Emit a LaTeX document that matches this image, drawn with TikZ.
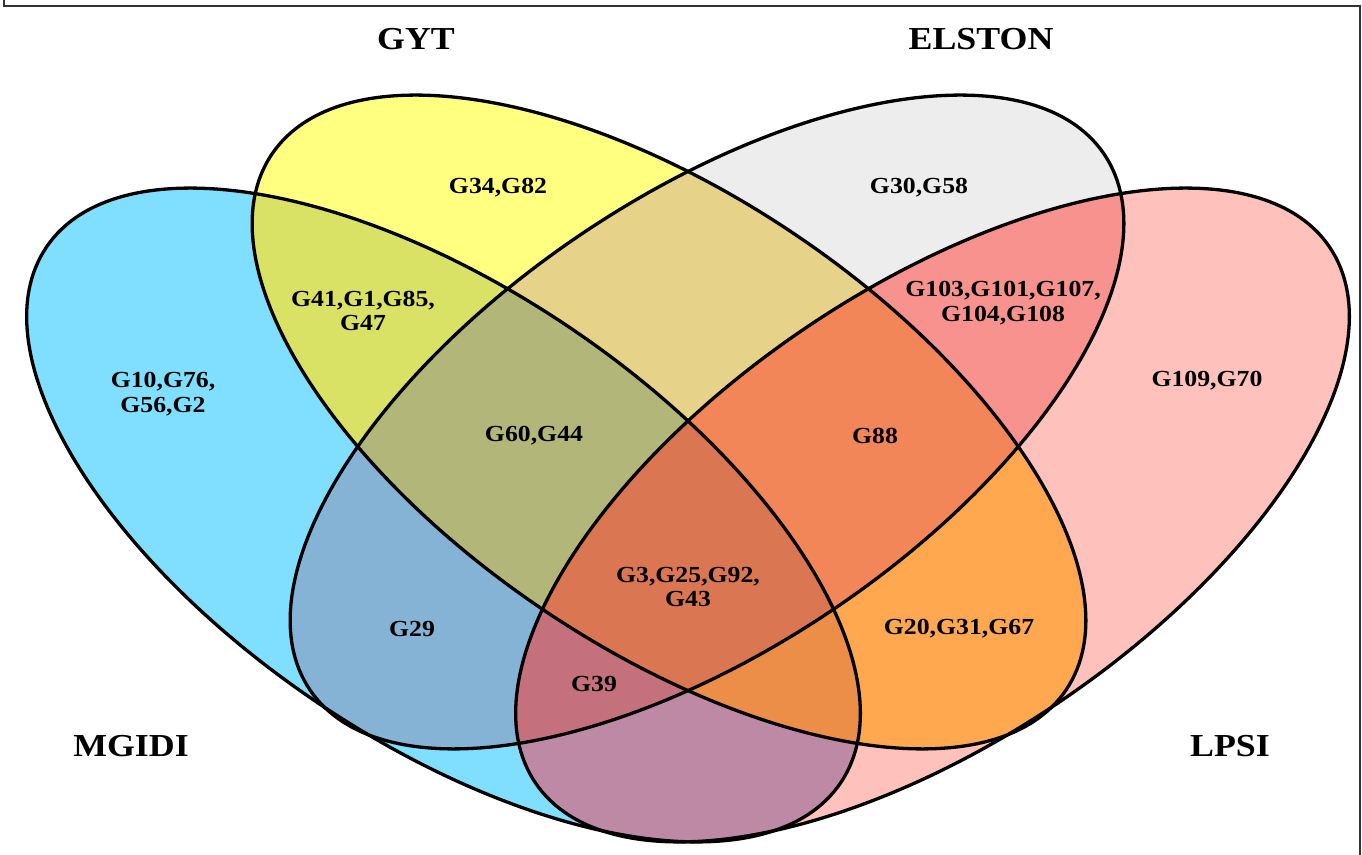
\documentclass[tikz,border=0pt]{standalone}
\usepackage{fontspec}
\setmainfont{Liberation Serif}[FakeStretch=1.12]
\definecolor{cA}{HTML}{80DFFF}
\definecolor{cB}{HTML}{FFFF80}
\definecolor{cC}{HTML}{EDEDED}
\definecolor{cD}{HTML}{FFC1BC}
\definecolor{cAB}{HTML}{D9E264}
\definecolor{cAC}{HTML}{84B3D6}
\definecolor{cAD}{HTML}{BE89A5}
\definecolor{cBC}{HTML}{E6D288}
\definecolor{cBD}{HTML}{FFA84F}
\definecolor{cCD}{HTML}{F7928E}
\definecolor{cABC}{HTML}{B2B679}
\definecolor{cABD}{HTML}{EC8E48}
\definecolor{cACD}{HTML}{C5717D}
\definecolor{cBCD}{HTML}{F38658}
\definecolor{cABCD}{HTML}{DA7652}
\begin{document}
\begin{tikzpicture}[x=1pt,y=1pt,
  eA/.style={insert path={(443.5,339) ellipse [x radius=479pt, y radius=226pt, rotate=-34]}},
  eB/.style={insert path={(669,432) ellipse [x radius=479pt, y radius=226pt, rotate=-34]}},
  eC/.style={insert path={(707,432) ellipse [x radius=479pt, y radius=226pt, rotate=34]}},
  eD/.style={insert path={(932.5,339) ellipse [x radius=479pt, y radius=226pt, rotate=34]}},
  setlab/.style={font=\fontsize{32}{34}\selectfont\bfseries, inner sep=0pt},
  reglab/.style={font=\fontsize{23}{24.5}\selectfont\bfseries, align=center, inner sep=0pt},
  outline/.style={draw=black, line width=3.3pt},
  frame/.style={draw=black!80, line width=1.5pt}
]
\useasboundingbox (0,0) rectangle (1362,854);
\fill[white] (0,0) rectangle (1362,854);
% single sets
\fill[fill=cA,eA];
\fill[fill=cB,eB];
\fill[fill=cC,eC];
\fill[fill=cD,eD];
% pairs
\begin{scope}\clip[eA];\fill[fill=cAB,eB];\end{scope}
\begin{scope}\clip[eA];\fill[fill=cAC,eC];\end{scope}
\begin{scope}\clip[eA];\fill[fill=cAD,eD];\end{scope}
\begin{scope}\clip[eB];\fill[fill=cBC,eC];\end{scope}
\begin{scope}\clip[eB];\fill[fill=cBD,eD];\end{scope}
\begin{scope}\clip[eC];\fill[fill=cCD,eD];\end{scope}
% triples
\begin{scope}\clip[eA];\clip[eB];\fill[fill=cABC,eC];\end{scope}
\begin{scope}\clip[eA];\clip[eB];\fill[fill=cABD,eD];\end{scope}
\begin{scope}\clip[eA];\clip[eC];\fill[fill=cACD,eD];\end{scope}
\begin{scope}\clip[eB];\clip[eC];\fill[fill=cBCD,eD];\end{scope}
% all four
\begin{scope}\clip[eA];\clip[eB];\clip[eC];\fill[fill=cABCD,eD];\end{scope}
% outlines
\path[outline,eA];
\path[outline,eB];
\path[outline,eC];
\path[outline,eD];
% frame
\draw[frame] (4,870) -- (4,848) -- (1360,848) -- (1360,-10);
% set labels
\node[setlab] (gyt) at (416,815) {GYT};
\node[setlab] (elston) at (981,815) {ELSTON};
\node[setlab] (mgidi) at (131,108) {MGIDI};
\node[setlab] (lpsi) at (1230,108) {LPSI};
% region labels
\node[reglab] (rB) at (498,666) {G34,G82};
\node[reglab] (rC) at (919,666) {G30,G58};
\node[reglab] (rAB) at (363,543) {G41,G1,G85,\\G47};
\node[reglab] (rA) at (163,460) {G10,G76,\\G56,G2};
\node[reglab] (rCD) at (1003,551) {G103,G101,G107,\\G104,G108};
\node[reglab] (rD) at (1207,473) {G109,G70};
\node[reglab] (rABC) at (534,418) {G60,G44};
\node[reglab] (rBCD) at (875,418) {G88};
\node[reglab] (rABCD) at (688,267) {G3,G25,G92,\\G43};
\node[reglab] (rAC) at (412,225) {G29};
\node[reglab] (rBD) at (959,225) {G20,G31,G67};
\node[reglab] (rACD) at (594,170) {G39};
\end{tikzpicture}
\end{document}
